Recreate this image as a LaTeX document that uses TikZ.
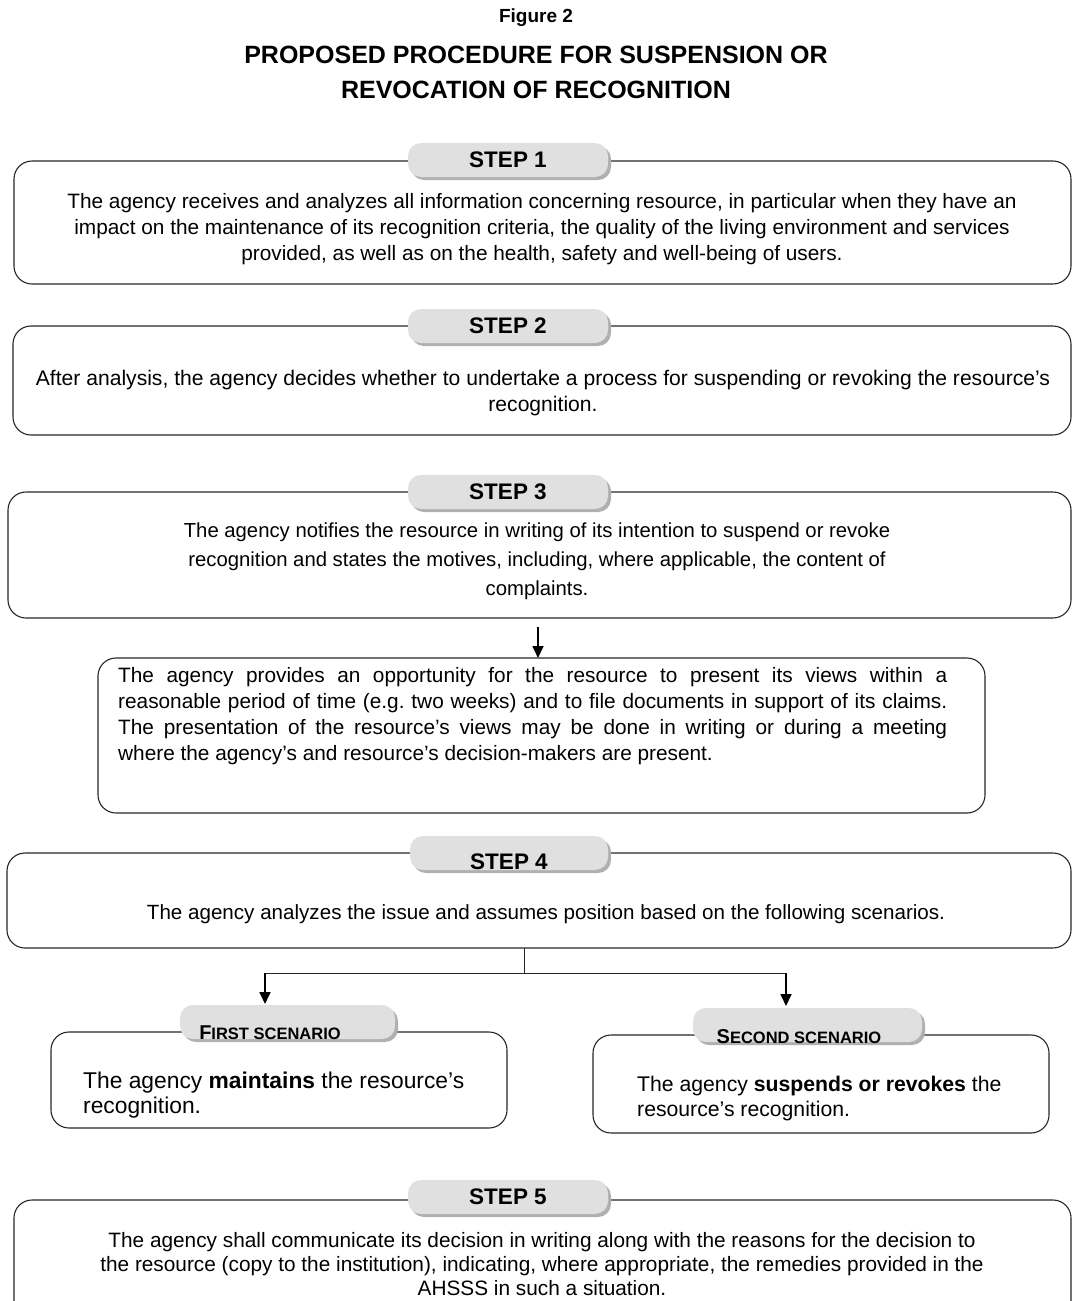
\documentclass[tikz,border=0pt]{standalone}
\usepackage{fontspec}
\setmainfont{Liberation Sans}
\usetikzlibrary{arrows.meta,shadows}
\frenchspacing
\tikzset{
  sbox/.style={draw=black!85, line width=1.1pt, rounded corners=18pt, rectangle, anchor=north west, inner sep=0pt, outer sep=0pt},
  tabnode/.style={rectangle, rounded corners=13pt, fill=gray!24, anchor=north west, inner sep=0pt, outer sep=0pt,
     drop shadow={shadow xshift=3pt, shadow yshift=-3pt, fill=gray!62, opacity=1},
     font=\bfseries\fontsize{22.5}{24}\selectfont},
  tablabel/.style={font=\bfseries\fontsize{22.5}{24}\selectfont, inner sep=0pt},
  body/.style={font=\fontsize{20.8}{26}\selectfont, align=center, inner sep=0pt},
  scen/.style={align=left, inner sep=0pt, anchor=west},
  arr/.style={-{Triangle[length=12pt,width=11pt]}, line width=1.7pt, black},
  conn/.style={line width=0.9pt, black!85}
}
\newcommand{\smc}[2]{{\fontsize{20}{20}\selectfont #1}{\fontsize{16.5}{17}\selectfont #2}}
\begin{document}
\begin{tikzpicture}[x=1pt,y=-1pt]
\useasboundingbox (0,0) rectangle (1072,1301);
\clip (0,0) rectangle (1072,1301);
% title
\node[font=\bfseries\fontsize{19}{22}\selectfont] (fig) at (536,18) {Figure 2};
\node[font=\bfseries\fontsize{25}{35}\selectfont, align=center] (title) at (536,72) {PROPOSED PROCEDURE FOR SUSPENSION OR\\REVOCATION OF RECOGNITION};
% step 1
\node[sbox, minimum width=1057pt, minimum height=123pt] (b1) at (14,161) {};
\node[tabnode, minimum width=200pt, minimum height=34pt] (t1) at (408,143) {STEP 1};
\node[body] (x1) at (542,229) {The agency receives and analyzes all information concerning resource, in particular when they have an\\impact on the maintenance of its recognition criteria, the quality of the living environment and services\\provided, as well as on the health, safety and well-being of users.};
% step 2
\node[sbox, minimum width=1058pt, minimum height=109pt] (b2) at (13,326) {};
\node[tabnode, minimum width=200pt, minimum height=34pt] (t2) at (408,309) {STEP 2};
\node[body, font=\fontsize{21.1}{26}\selectfont] (x2) at (543,393) {After analysis, the agency decides whether to undertake a process for suspending or revoking the resource’s\\recognition.};
% step 3
\node[sbox, minimum width=1063pt, minimum height=126pt] (b3) at (8,492) {};
\node[tabnode, minimum width=200pt, minimum height=34pt] (t3) at (408,475) {STEP 3};
\node[body, font=\fontsize{20.3}{29}\selectfont] (x3) at (537,561) {The agency notifies the resource in writing of its intention to suspend or revoke\\recognition and states the motives, including, where applicable, the content of\\complaints.};
% views box
\node[sbox, minimum width=887pt, minimum height=155pt] (v) at (98,658) {};
\node[body, align=justify, anchor=west, text width=829pt] (xv) at (118,716) {The agency provides an opportunity for the resource to present its views within a\linebreak reasonable period of time (e.g. two weeks) and to file documents in support of its claims.\linebreak The presentation of the resource’s views may be done in writing or during a meeting\linebreak where the agency’s and resource’s decision-makers are present.};
\coordinate (a3) at (538,627);
\draw[arr] (a3) -- (a3 |- v.north);
% step 4
\node[sbox, minimum width=1064pt, minimum height=95pt] (b4) at (7,853) {};
\node[tabnode, minimum width=198pt, minimum height=34pt] (t4) at (410,836) {};
\node[tablabel] (l4) at (509,862) {STEP 4};
\node[body, font=\fontsize{20.6}{26}\selectfont] (x4) at (546,914) {The agency analyzes the issue and assumes position based on the following scenarios.};
% junction
\coordinate (j) at (524,973);
\coordinate (jl) at (265,973);
\coordinate (jr) at (786,973);
\coordinate (el) at (265,1004);
\coordinate (er) at (786,1006);
\draw[conn] (j |- b4.south) -- (j);
\draw[conn] (jl) -- (jr);
\draw[arr] (jl) -- (el);
\draw[arr] (jr) -- (er);
% first scenario
\node[sbox, minimum width=456pt, minimum height=96pt] (s1) at (51,1032) {};
\node[tabnode, minimum width=215pt, minimum height=34pt] (ts1) at (180,1005) {};
\node[font=\bfseries, inner sep=0pt] (ls1) at (270,1033) {\smc{F}{IRST SCENARIO}};
\node[scen, font=\fontsize{22.8}{25}\selectfont] (xs1) at (83,1095) {The agency \textbf{maintains} the resource’s\\recognition.};
% second scenario
\node[sbox, minimum width=456pt, minimum height=98pt] (s2) at (593,1035) {};
\node[tabnode, minimum width=229pt, minimum height=34pt] (ts2) at (693,1008) {};
\node[font=\bfseries, inner sep=0pt] (ls2) at (799,1037) {\smc{S}{ECOND SCENARIO}};
\node[scen, font=\fontsize{21.2}{25}\selectfont] (xs2) at (637,1099) {The agency \textbf{suspends or revokes} the\\resource’s recognition.};
% step 5
\node[sbox, minimum width=1057pt, minimum height=140pt] (b5) at (14,1200) {};
\node[tabnode, minimum width=200pt, minimum height=34pt] (t5) at (408,1180) {STEP 5};
\node[body, font=\fontsize{20.8}{24}\selectfont] (x5) at (542,1264) {The agency shall communicate its decision in writing along with the reasons for the decision to\\the resource (copy to the institution), indicating, where appropriate, the remedies provided in the\\AHSSS in such a situation.};
\end{tikzpicture}
\end{document}
